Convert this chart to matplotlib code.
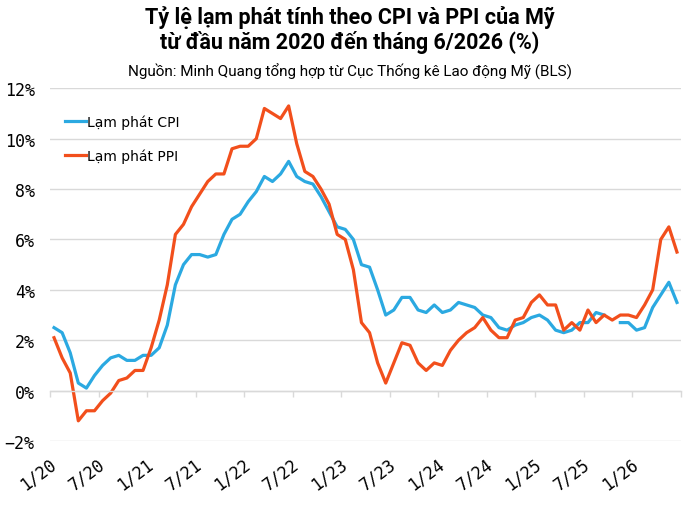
import numpy as np
import matplotlib
matplotlib.use("Agg")
import matplotlib.pyplot as plt
import matplotlib.transforms as mtransforms

nan = np.nan

# tháng 1/2020 -> 6/2026
cpi = [
    2.5, 2.3, 1.5, 0.3, 0.1, 0.6, 1.0, 1.3, 1.4, 1.2, 1.2, 1.4,
    1.4, 1.7, 2.6, 4.2, 5.0, 5.4, 5.4, 5.3, 5.4, 6.2, 6.8, 7.0,
    7.5, 7.9, 8.5, 8.3, 8.6, 9.1, 8.5, 8.3, 8.2, 7.7, 7.1, 6.5,
    6.4, 6.0, 5.0, 4.9, 4.0, 3.0, 3.2, 3.7, 3.7, 3.2, 3.1, 3.4,
    3.1, 3.2, 3.5, 3.4, 3.3, 3.0, 2.9, 2.5, 2.4, 2.6, 2.7, 2.9,
    3.0, 2.8, 2.4, 2.3, 2.4, 2.7, 2.7, 3.1, 3.0, nan, 2.7, 2.7,
    2.4, 2.5, 3.3, 3.8, 4.3, 3.5,
]
ppi = [
    2.1, 1.3, 0.7, -1.2, -0.8, -0.8, -0.4, -0.1, 0.4, 0.5, 0.8, 0.8,
    1.7, 2.8, 4.2, 6.2, 6.6, 7.3, 7.8, 8.3, 8.6, 8.6, 9.6, 9.7,
    9.7, 10.0, 11.2, 11.0, 10.8, 11.3, 9.8, 8.7, 8.5, 8.0, 7.4, 6.2,
    6.0, 4.8, 2.7, 2.3, 1.1, 0.3, 1.1, 1.9, 1.8, 1.1, 0.8, 1.1,
    1.0, 1.6, 2.0, 2.3, 2.5, 2.9, 2.4, 2.1, 2.1, 2.8, 2.9, 3.5,
    3.8, 3.4, 3.4, 2.4, 2.7, 2.4, 3.2, 2.7, 3.0, 2.8, 3.0, 3.0,
    2.9, 3.4, 4.0, 6.0, 6.5, 5.5,
]
x_labels = ["1/20", "7/20", "1/21", "7/21", "1/22", "7/22", "1/23",
            "7/23", "1/24", "7/24", "1/25", "7/25", "1/26"]
y_ticks = [-2, 0, 2, 4, 6, 8, 10, 12]

title1 = "Tỷ lệ lạm phát tính theo CPI và PPI của Mỹ"
title2 = "từ đầu năm 2020 đến tháng 6/2026 (%)"
source = "Nguồn: Minh Quang tổng hợp từ Cục Thống kê Lao động Mỹ (BLS)"

blue = "#2BA9E1"
red = "#F24F1C"
grid = "#D9D9D9"

n = len(cpi)
x = np.arange(n)

fig = plt.figure(figsize=(7, 5.06), dpi=100)
ax = fig.add_axes([50 / 700, 1 - 442 / 506, 631 / 700, 352.7 / 506])

ax.plot(x, cpi, color=blue, lw=2.3, label="Lạm phát CPI")
ax.plot(x, ppi, color=red, lw=2.3, label="Lạm phát PPI")

ax.set_xlim(-0.5, n - 0.5)
ax.set_ylim(-2, 12)

for s in ["top", "right", "left"]:
    ax.spines[s].set_visible(False)
ax.spines["bottom"].set_position(("data", 0))
ax.spines["bottom"].set_color(grid)
ax.spines["bottom"].set_linewidth(1)

ax.set_xticks(np.arange(-0.5, n, 6))
ax.tick_params(axis="x", direction="out", length=4, width=1, color=grid, labelbottom=False)

ax.set_yticks(y_ticks)
ax.set_yticklabels([f"{v}%".replace("-", "\u2212") for v in y_ticks],
                   family="DejaVu Sans Mono", fontsize=12)
ax.tick_params(axis="y", length=0, pad=11)
ax.grid(axis="y", color=grid, lw=1)
ax.set_axisbelow(True)

trans = mtransforms.blended_transform_factory(ax.transData, ax.transAxes)
for i, lab in enumerate(x_labels):
    ax.text(i * 6, -0.058, lab, transform=trans, rotation=37,
            rotation_mode="anchor", ha="right", va="center",
            family="DejaVu Sans Mono", fontsize=12)

ax.legend(loc="upper left", bbox_to_anchor=(0.024, 0.925), frameon=False,
          prop={"family": "DejaVu Sans", "size": 10}, handlelength=1.5,
          handletextpad=0.08, labelspacing=1.35, borderpad=0, borderaxespad=0)

fig.text(0.5, 1 - 18 / 506, title1, ha="center", va="center",
         family=["Roboto", "DejaVu Sans"], weight="bold", fontsize=15.5)
fig.text(0.5, 1 - 42 / 506, title2, ha="center", va="center",
         family=["Roboto", "DejaVu Sans"], weight="bold", fontsize=15.5)
fig.text(0.5, 1 - 72 / 506, source, ha="center", va="center",
         family=["Roboto", "DejaVu Sans"], fontsize=11)

fig.savefig("out.png", dpi=100)
